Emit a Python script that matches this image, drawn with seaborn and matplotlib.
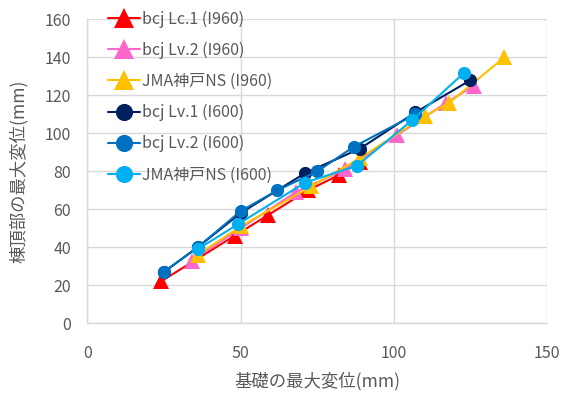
import matplotlib
matplotlib.use("Agg")
import matplotlib.pyplot as plt
import seaborn as sns
import pandas as pd

# Series: foundation max displacement (x) vs. ridge max displacement (y), mm
lc1_960_x = [24, 48, 59, 72, 82, 89]
lc1_960_y = [22, 46, 57, 70, 78, 85]

lv2_960_x = [34, 50, 68, 84, 101, 117, 126]
lv2_960_y = [33, 50, 69, 81, 99, 116, 125]

jma_960_x = [36, 50, 73, 89, 110, 118, 136]
jma_960_y = [36, 51, 72, 87, 109, 116, 140]

lv1_600_x = [25, 36, 50, 71, 89, 107, 125]
lv1_600_y = [27, 40, 58, 79, 92, 111, 128]

lv2_600_x = [25, 36, 50, 62, 75, 87, 107]
lv2_600_y = [27, 40, 59, 70, 80, 93, 110]

jma_600_x = [36, 49, 71, 88, 106, 123]
jma_600_y = [39, 52, 74, 83, 107, 132]

labels = ["bcj Lc.1 (I960)", "bcj Lv.2 (I960)", "JMA神戸NS (I960)",
          "bcj Lv.1 (I600)", "bcj Lv.2 (I600)", "JMA神戸NS (I600)"]
colors = ["#FF0000", "#FF66CC", "#FFC000", "#002060", "#0070C0", "#00B0F0"]
markers = ["^", "^", "^", "o", "o", "o"]
xs = [lc1_960_x, lv2_960_x, jma_960_x, lv1_600_x, lv2_600_x, jma_600_x]
ys = [lc1_960_y, lv2_960_y, jma_960_y, lv1_600_y, lv2_600_y, jma_600_y]

x_ticks = [0, 50, 100, 150]
y_ticks = [0, 20, 40, 60, 80, 100, 120, 140, 160]

sns.set_theme(style="white")
plt.rcParams["font.family"] = ["Noto Sans CJK JP", "DejaVu Sans"]

fig = plt.figure(figsize=(5.64, 3.97), dpi=100)
ax = fig.add_axes([0.155, 0.186, 0.815, 0.765])

for x, y, lab, c, m in zip(xs, ys, labels, colors, markers):
    df = pd.DataFrame({"x": x, "y": y})
    sns.lineplot(data=df, x="x", y="y", ax=ax, color=c, marker=m,
                 markersize=11 if m == "^" else 9.5, markeredgewidth=0,
                 linewidth=1.5, label=lab, sort=False)

ax.set_xlim(0, 150)
ax.set_ylim(0, 160)
ax.set_xticks(x_ticks)
ax.set_yticks(y_ticks)
ax.grid(True, color="#D9D9D9", linewidth=1)
ax.set_axisbelow(True)
for side in ["top", "right"]:
    ax.spines[side].set_visible(False)
for side in ["left", "bottom"]:
    ax.spines[side].set_color("#D9D9D9")
    ax.spines[side].set_linewidth(1)
ax.tick_params(axis="both", length=0, colors="#595959", labelsize=11.5)
ax.tick_params(axis="x", pad=16)
ax.tick_params(axis="y", pad=12)

ax.set_xlabel("基礎の最大変位(mm)", color="#595959", fontsize=12.5, labelpad=7)
ax.set_ylabel("棟頂部の最大変位(mm)", color="#595959", fontsize=12.5, labelpad=12)

leg = ax.legend(loc="upper left", bbox_to_anchor=(0.18, 0.99), bbox_transform=fig.transFigure,
                frameon=False, fontsize=11.5, labelspacing=0.88, handlelength=2.0,
                handletextpad=0.15, borderaxespad=0, markerscale=1.3)
for t in leg.get_texts():
    t.set_color("#595959")

fig.savefig("out.png", dpi=100)
